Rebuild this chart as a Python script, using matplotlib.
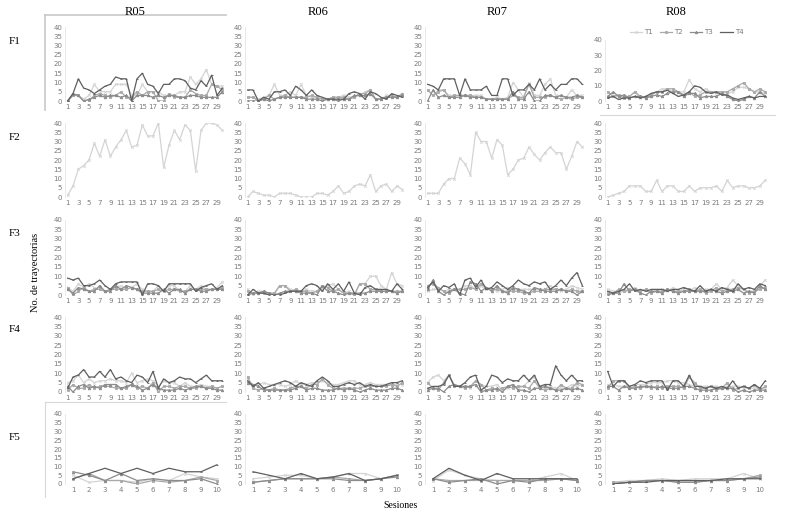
import matplotlib
matplotlib.use("Agg")
import matplotlib.pyplot as plt
from matplotlib.lines import Line2D

# Sessions
sessions_30 = list(range(1, 31))
sessions_10 = list(range(1, 11))
tick_labels_30 = [str(i) for i in range(1, 31, 2)]

robots = ["R05", "R06", "R07", "R08"]
rows = ["F1", "F2", "F3", "F4", "F5"]
series_names = ["T1", "T2", "T3", "T4"]

# ---- F1 ----
f1_r05_t1 = [0, 3, 3, 1, 3, 9, 5, 5, 5, 9, 9, 9, 3, 3, 9, 5, 5, 5, 3, 3, 3, 5, 5, 13, 9, 12, 17, 9, 8, 8]
f1_r05_t2 = [0, 3, 3, 0, 0, 3, 4, 3, 2, 3, 5, 2, 2, 5, 3, 5, 5, 0, 0, 4, 2, 2, 2, 6, 4, 3, 3, 9, 8, 6]
f1_r05_t3 = [0, 4, 3, 0, 1, 2, 3, 2, 3, 3, 2, 3, 0, 3, 3, 3, 2, 3, 2, 3, 3, 2, 2, 3, 3, 2, 2, 2, 2, 5]
f1_r05_t4 = [0, 4, 12, 7, 6, 4, 6, 8, 9, 13, 12, 12, 0, 12, 15, 9, 8, 4, 9, 9, 12, 12, 11, 7, 6, 11, 8, 14, 3, 7]

f1_r06_t1 = [2, 2, 1, 2, 3, 9, 3, 3, 5, 3, 9, 3, 2, 2, 1, 1, 2, 2, 3, 2, 2, 3, 5, 6, 1, 1, 3, 3, 2, 4]
f1_r06_t2 = [2, 2, 0, 1, 3, 1, 2, 3, 2, 2, 2, 2, 3, 2, 1, 1, 2, 2, 2, 1, 2, 4, 4, 6, 1, 1, 2, 3, 2, 4]
f1_r06_t3 = [0, 0, 0, 1, 0, 1, 2, 2, 2, 2, 2, 1, 1, 1, 0, 1, 1, 0, 1, 1, 3, 3, 3, 4, 1, 1, 2, 2, 2, 3]
f1_r06_t4 = [6, 6, 0, 2, 1, 5, 5, 6, 3, 8, 6, 3, 6, 3, 2, 1, 1, 1, 1, 4, 5, 4, 1, 5, 4, 2, 1, 4, 3, 2]

f1_r07_t1 = [6, 3, 6, 6, 3, 3, 3, 3, 3, 3, 3, 1, 1, 2, 1, 2, 10, 6, 2, 10, 3, 3, 9, 12, 3, 3, 2, 6, 3, 3]
f1_r07_t2 = [6, 3, 5, 6, 2, 3, 3, 3, 3, 2, 2, 1, 1, 1, 1, 1, 3, 2, 2, 9, 2, 2, 2, 3, 2, 1, 2, 1, 2, 2]
f1_r07_t3 = [0, 6, 2, 3, 2, 2, 2, 3, 2, 2, 2, 1, 1, 1, 1, 1, 5, 1, 1, 5, 0, 0, 3, 3, 2, 3, 2, 2, 3, 2]
f1_r07_t4 = [9, 8, 6, 12, 12, 12, 3, 12, 6, 6, 6, 8, 3, 3, 12, 12, 3, 6, 6, 9, 6, 12, 6, 9, 6, 9, 9, 12, 12, 9]

f1_r08_t1 = [3, 3, 3, 2, 3, 6, 2, 3, 4, 6, 8, 8, 6, 6, 6, 14, 8, 6, 8, 6, 5, 6, 5, 6, 9, 9, 8, 6, 6, 5]
f1_r08_t2 = [6, 3, 4, 2, 3, 6, 3, 2, 4, 6, 6, 8, 8, 6, 4, 6, 3, 4, 6, 6, 6, 6, 6, 8, 10, 12, 8, 6, 8, 6]
f1_r08_t3 = [3, 6, 3, 4, 2, 3, 3, 2, 3, 4, 3, 5, 6, 6, 3, 5, 5, 2, 3, 3, 3, 5, 3, 1, 0, 1, 3, 2, 6, 3]
f1_r08_t4 = [2, 3, 1, 2, 2, 3, 2, 3, 5, 6, 6, 7, 5, 3, 4, 6, 10, 9, 6, 5, 6, 4, 4, 2, 1, 2, 3, 2, 3, 3]

# ---- F2 (only T1 recorded) ----
f2_r05_t1 = [1, 6, 15, 17, 20, 29, 22, 31, 22, 27, 31, 36, 27, 28, 39, 33, 33, 40, 16, 28, 36, 31, 39, 36, 14, 36, 40, 40, 39, 36]
f2_r06_t1 = [0, 3, 2, 1, 1, 0, 2, 2, 2, 1, 0, 0, 0, 2, 2, 1, 3, 6, 2, 3, 6, 7, 6, 12, 3, 6, 7, 3, 6, 4]
f2_r07_t1 = [2, 2, 2, 7, 10, 10, 21, 18, 12, 35, 30, 30, 21, 31, 28, 12, 15, 20, 21, 27, 23, 20, 24, 27, 24, 24, 15, 22, 30, 27]
f2_r08_t1 = [0, 1, 2, 3, 6, 6, 6, 3, 3, 9, 3, 6, 6, 3, 3, 6, 3, 5, 5, 5, 6, 3, 9, 5, 6, 6, 5, 5, 6, 9]

# ---- F3 ----
f3_r05_t1 = [4, 2, 6, 4, 6, 4, 3, 2, 3, 4, 5, 3, 4, 6, 3, 2, 2, 5, 2, 5, 5, 2, 2, 5, 3, 5, 3, 3, 4, 7]
f3_r05_t2 = [4, 0, 2, 4, 2, 3, 3, 2, 3, 3, 3, 3, 4, 3, 2, 2, 2, 3, 2, 3, 3, 2, 2, 3, 3, 3, 3, 3, 3, 4]
f3_r05_t3 = [3, 1, 4, 3, 2, 2, 5, 2, 2, 5, 3, 5, 4, 3, 1, 1, 1, 1, 3, 1, 3, 3, 1, 3, 3, 2, 2, 3, 3, 3]
f3_r05_t4 = [9, 8, 9, 5, 5, 6, 8, 5, 3, 6, 7, 7, 7, 7, 0, 6, 6, 5, 2, 6, 6, 6, 6, 6, 2, 4, 5, 6, 3, 5]

f3_r06_t1 = [3, 0, 2, 2, 1, 0, 5, 5, 3, 2, 2, 3, 2, 2, 3, 5, 6, 3, 1, 2, 0, 6, 6, 10, 10, 5, 3, 12, 6, 5]
f3_r06_t2 = [2, 1, 1, 1, 1, 1, 5, 5, 2, 3, 2, 2, 1, 2, 5, 4, 2, 3, 1, 1, 0, 6, 6, 3, 3, 2, 2, 2, 2, 2]
f3_r06_t3 = [0, 1, 1, 2, 1, 0, 1, 2, 2, 2, 1, 1, 1, 0, 5, 2, 2, 1, 0, 1, 1, 1, 1, 2, 2, 2, 2, 2, 1, 2]
f3_r06_t4 = [0, 3, 1, 1, 0, 0, 0, 1, 2, 2, 2, 5, 6, 5, 2, 6, 3, 6, 2, 7, 1, 0, 4, 5, 3, 3, 3, 2, 6, 3]

f3_r07_t1 = [2, 3, 3, 2, 3, 3, 3, 5, 5, 3, 5, 3, 3, 2, 3, 4, 3, 3, 3, 3, 3, 3, 3, 5, 3, 2, 3, 5, 4, 3]
f3_r07_t2 = [5, 6, 4, 2, 1, 3, 3, 3, 4, 3, 6, 4, 3, 3, 2, 2, 2, 2, 1, 1, 2, 2, 3, 3, 3, 3, 2, 3, 2, 2]
f3_r07_t3 = [3, 8, 2, 0, 2, 3, 1, 0, 7, 6, 2, 4, 2, 5, 2, 1, 4, 3, 2, 1, 4, 3, 2, 2, 2, 3, 2, 2, 0, 2]
f3_r07_t4 = [4, 7, 2, 5, 4, 6, 0, 8, 9, 4, 8, 3, 4, 7, 5, 3, 5, 8, 6, 5, 7, 6, 7, 3, 5, 8, 5, 9, 12, 5]

f3_r08_t1 = [3, 2, 1, 2, 2, 4, 2, 3, 2, 2, 3, 2, 4, 2, 3, 2, 4, 2, 3, 3, 6, 3, 4, 8, 5, 3, 2, 2, 5, 8]
f3_r08_t2 = [1, 1, 3, 2, 3, 3, 2, 3, 1, 2, 2, 3, 2, 2, 2, 3, 2, 3, 1, 2, 4, 2, 3, 3, 4, 3, 1, 2, 3, 4]
f3_r08_t3 = [0, 1, 1, 6, 2, 3, 1, 0, 2, 2, 1, 3, 2, 1, 2, 2, 2, 2, 2, 3, 2, 1, 2, 2, 3, 1, 2, 1, 5, 3]
f3_r08_t4 = [2, 1, 2, 3, 6, 2, 3, 2, 3, 3, 3, 2, 3, 3, 4, 3, 2, 5, 2, 3, 2, 4, 3, 2, 6, 3, 4, 3, 6, 5]

# ---- F4 ----
f4_r05_t1 = [5, 6, 9, 5, 7, 5, 6, 6, 7, 6, 6, 5, 10, 5, 6, 7, 6, 3, 6, 5, 5, 3, 5, 3, 3, 4, 3, 3, 2, 3]
f4_r05_t2 = [1, 4, 2, 2, 4, 2, 3, 3, 3, 2, 2, 2, 4, 2, 3, 2, 5, 0, 3, 3, 2, 3, 3, 2, 2, 3, 2, 3, 2, 3]
f4_r05_t3 = [3, 0, 3, 4, 2, 3, 2, 4, 4, 4, 2, 3, 4, 3, 1, 2, 4, 2, 1, 1, 1, 2, 1, 2, 3, 3, 2, 2, 1, 1]
f4_r05_t4 = [2, 8, 9, 12, 8, 8, 11, 8, 12, 7, 8, 6, 5, 9, 8, 5, 11, 2, 7, 5, 6, 8, 7, 7, 5, 7, 9, 6, 6, 6]

f4_r06_t1 = [7, 4, 4, 5, 4, 4, 4, 3, 4, 6, 4, 4, 5, 5, 6, 5, 4, 4, 5, 6, 6, 4, 4, 5, 4, 4, 4, 4, 4, 4]
f4_r06_t2 = [8, 2, 1, 2, 1, 2, 1, 1, 2, 3, 3, 2, 4, 4, 7, 4, 2, 2, 2, 2, 2, 2, 3, 3, 3, 3, 3, 4, 3, 5]
f4_r06_t3 = [5, 4, 3, 1, 1, 1, 1, 1, 1, 2, 3, 1, 2, 2, 1, 1, 1, 2, 1, 2, 1, 0, 1, 2, 1, 1, 1, 2, 2, 1]
f4_r06_t4 = [6, 3, 5, 2, 3, 4, 5, 6, 5, 3, 5, 4, 3, 6, 8, 6, 3, 3, 4, 5, 4, 5, 3, 4, 3, 3, 4, 5, 5, 6]

f4_r07_t1 = [5, 8, 9, 6, 9, 4, 3, 3, 2, 6, 4, 3, 3, 4, 1, 2, 4, 2, 3, 6, 8, 3, 2, 3, 2, 2, 2, 4, 3, 4]
f4_r07_t2 = [5, 2, 1, 5, 9, 3, 3, 2, 3, 6, 4, 1, 2, 1, 2, 3, 2, 3, 3, 2, 6, 2, 1, 2, 1, 4, 2, 2, 5, 4]
f4_r07_t3 = [1, 2, 2, 0, 3, 4, 3, 3, 3, 4, 0, 1, 1, 2, 0, 3, 4, 1, 1, 0, 2, 2, 3, 2, 1, 1, 2, 1, 2, 1]
f4_r07_t4 = [2, 3, 3, 4, 9, 3, 3, 5, 8, 9, 1, 3, 9, 8, 5, 7, 6, 6, 9, 6, 9, 3, 4, 4, 14, 9, 6, 9, 6, 6]

f4_r08_t1 = [4, 4, 3, 3, 3, 4, 4, 4, 5, 5, 5, 6, 6, 5, 5, 4, 3, 3, 3, 3, 3, 2, 3, 3, 3, 2, 2, 2, 2, 2]
f4_r08_t2 = [2, 6, 6, 6, 2, 3, 2, 3, 2, 3, 2, 3, 3, 3, 2, 8, 5, 2, 2, 3, 1, 2, 5, 1, 2, 3, 2, 4, 1, 3]
f4_r08_t3 = [3, 3, 1, 3, 2, 2, 3, 3, 3, 2, 3, 2, 2, 2, 3, 3, 2, 1, 1, 1, 2, 2, 2, 2, 0, 1, 0, 1, 1, 1]
f4_r08_t4 = [11, 3, 6, 6, 3, 4, 6, 5, 6, 6, 6, 1, 6, 6, 3, 9, 3, 3, 2, 3, 2, 3, 2, 6, 2, 3, 2, 4, 2, 6]

# ---- F5 (10 sessions) ----
f5_r05_t1 = [5, 1, 2, 2, 1, 3, 2, 6, 4, 3]
f5_r05_t2 = [3, 6, 2, 2, 0, 2, 1, 2, 4, 2]
f5_r05_t3 = [7, 5, 2, 6, 2, 3, 2, 2, 3, 0]
f5_r05_t4 = [3, 6, 9, 6, 9, 6, 9, 7, 7, 11]

f5_r06_t1 = [3, 4, 5, 5, 3, 4, 6, 6, 3, 5]
f5_r06_t2 = [1, 2, 3, 3, 3, 4, 3, 2, 3, 5]
f5_r06_t3 = [1, 2, 3, 3, 3, 3, 2, 2, 3, 4]
f5_r06_t4 = [7, 5, 3, 6, 3, 4, 6, 2, 3, 5]

f5_r07_t1 = [2, 8, 5, 3, 2, 2, 2, 4, 6, 2]
f5_r07_t2 = [3, 2, 2, 2, 2, 2, 2, 2, 3, 2]
f5_r07_t3 = [3, 1, 2, 3, 0, 2, 1, 3, 3, 2]
f5_r07_t4 = [3, 9, 5, 2, 6, 3, 3, 3, 3, 3]

f5_r08_t1 = [1, 2, 2, 3, 2, 3, 3, 3, 6, 3]
f5_r08_t2 = [1, 1, 2, 2, 1, 1, 2, 2, 3, 5]
f5_r08_t3 = [0, 1, 2, 2, 1, 1, 2, 2, 3, 4]
f5_r08_t4 = [0, 1, 1, 2, 2, 2, 2, 3, 3, 3]

panels = {
    ("F1", "R05"): [f1_r05_t1, f1_r05_t2, f1_r05_t3, f1_r05_t4],
    ("F1", "R06"): [f1_r06_t1, f1_r06_t2, f1_r06_t3, f1_r06_t4],
    ("F1", "R07"): [f1_r07_t1, f1_r07_t2, f1_r07_t3, f1_r07_t4],
    ("F1", "R08"): [f1_r08_t1, f1_r08_t2, f1_r08_t3, f1_r08_t4],
    ("F2", "R05"): [f2_r05_t1],
    ("F2", "R06"): [f2_r06_t1],
    ("F2", "R07"): [f2_r07_t1],
    ("F2", "R08"): [f2_r08_t1],
    ("F3", "R05"): [f3_r05_t1, f3_r05_t2, f3_r05_t3, f3_r05_t4],
    ("F3", "R06"): [f3_r06_t1, f3_r06_t2, f3_r06_t3, f3_r06_t4],
    ("F3", "R07"): [f3_r07_t1, f3_r07_t2, f3_r07_t3, f3_r07_t4],
    ("F3", "R08"): [f3_r08_t1, f3_r08_t2, f3_r08_t3, f3_r08_t4],
    ("F4", "R05"): [f4_r05_t1, f4_r05_t2, f4_r05_t3, f4_r05_t4],
    ("F4", "R06"): [f4_r06_t1, f4_r06_t2, f4_r06_t3, f4_r06_t4],
    ("F4", "R07"): [f4_r07_t1, f4_r07_t2, f4_r07_t3, f4_r07_t4],
    ("F4", "R08"): [f4_r08_t1, f4_r08_t2, f4_r08_t3, f4_r08_t4],
    ("F5", "R05"): [f5_r05_t1, f5_r05_t2, f5_r05_t3, f5_r05_t4],
    ("F5", "R06"): [f5_r06_t1, f5_r06_t2, f5_r06_t3, f5_r06_t4],
    ("F5", "R07"): [f5_r07_t1, f5_r07_t2, f5_r07_t3, f5_r07_t4],
    ("F5", "R08"): [f5_r08_t1, f5_r08_t2, f5_r08_t3, f5_r08_t4],
}

# Excel-like greys and markers for T1..T4
colors = ["#d4d4d4", "#a9a9a9", "#8c8c8c", "#5f5f5f"]
markers = ["x", "s", "^", "_"]
tick_color = "#7a7a7a"

W, H = 785, 521
fig = plt.figure(figsize=(W / 100, H / 100), dpi=100)

# pixel layout (left edge of each column, top/bottom of each row)
col_left = [65, 245, 425, 605]
col_width = [160, 160, 160, 163]
row_top = [27, 123, 220, 317, 414]
row_bottom = [101, 197, 295, 392, 484]

def px_axes(x0, y_top, w, y_bot):
    return fig.add_axes([x0 / W, 1 - y_bot / H, w / W, (y_bot - y_top) / H])

for r, row in enumerate(rows):
    for c, rob in enumerate(robots):
        top = row_top[r]
        if row == "F1" and rob == "R08":
            top = 40
        ax = px_axes(col_left[c], top, col_width[c], row_bottom[r])
        data = panels[(row, rob)]
        n = len(data[0])
        xs = sessions_10 if n == 10 else sessions_30
        for i, vals in enumerate(data):
            ax.plot(xs, vals, color=colors[i], lw=0.9, marker=markers[i],
                    ms=1.8, mew=0.6, label=series_names[i])
        ax.set_ylim(0, 40)
        ax.set_xlim(0.5, n + 0.5)
        if row == "F1" and rob == "R08":
            ax.set_yticks(range(0, 41, 10))
        else:
            ax.set_yticks(range(0, 41, 5))
        if n == 10:
            ax.set_xticks(xs)
            ax.set_xticklabels([str(x) for x in xs])
        else:
            ax.set_xticks(range(1, 31, 2))
            ax.set_xticklabels(tick_labels_30)
        ax.tick_params(length=0, labelsize=5.0, colors=tick_color, pad=2)
        for s in ["top", "right", "bottom"]:
            ax.spines[s].set_visible(False)
        ax.spines["left"].set_color("#e4e4e4")
        ax.spines["left"].set_linewidth(0.6)
        ax.patch.set_alpha(0)
        if row == "F1" and rob == "R08":
            ax.legend(loc="lower center", bbox_to_anchor=(0.5, 1.02), ncol=4,
                      frameon=False, fontsize=5.0, labelcolor="#7a7a7a",
                      handlelength=1.8, columnspacing=1.0, handletextpad=0.3,
                      borderpad=0)

serif = "Liberation Serif"
col_centers = [135, 318, 497, 676]
for rob, cx in zip(robots, col_centers):
    fig.text(cx / W, 1 - 12 / H, rob, ha="center", va="center", fontsize=9, family=serif)
row_centers = [42, 138, 233, 330, 438]
for row, cy in zip(rows, row_centers):
    fig.text(15 / W, 1 - cy / H, row, ha="center", va="center", fontsize=8, family=serif)

fig.text(35 / W, 1 - 272 / H, "No. de trayectorias", rotation=90, ha="center", va="center",
         fontsize=7.5, family=serif)
fig.text(400 / W, 1 - 505 / H, "Sesiones", ha="center", va="center", fontsize=7, family=serif)

# faint chart-area borders left over from the spreadsheet
border = "#c8c8c8"
fig.add_artist(Line2D([45 / W, 226 / W], [1 - 15 / H, 1 - 15 / H], color=border, lw=1.2))
fig.add_artist(Line2D([45 / W, 45 / W], [1 - 15 / H, 1 - 110 / H], color=border, lw=1.2))
fig.add_artist(Line2D([45 / W, 226 / W], [1 - 402 / H, 1 - 402 / H], color="#d8d8d8", lw=0.8))
fig.add_artist(Line2D([45 / W, 45 / W], [1 - 402 / H, 1 - 497 / H], color="#d8d8d8", lw=0.8))
fig.add_artist(Line2D([600 / W, 775 / W], [1 - 115 / H, 1 - 115 / H], color="#d8d8d8", lw=0.8))

fig.savefig("out.png", dpi=100)
